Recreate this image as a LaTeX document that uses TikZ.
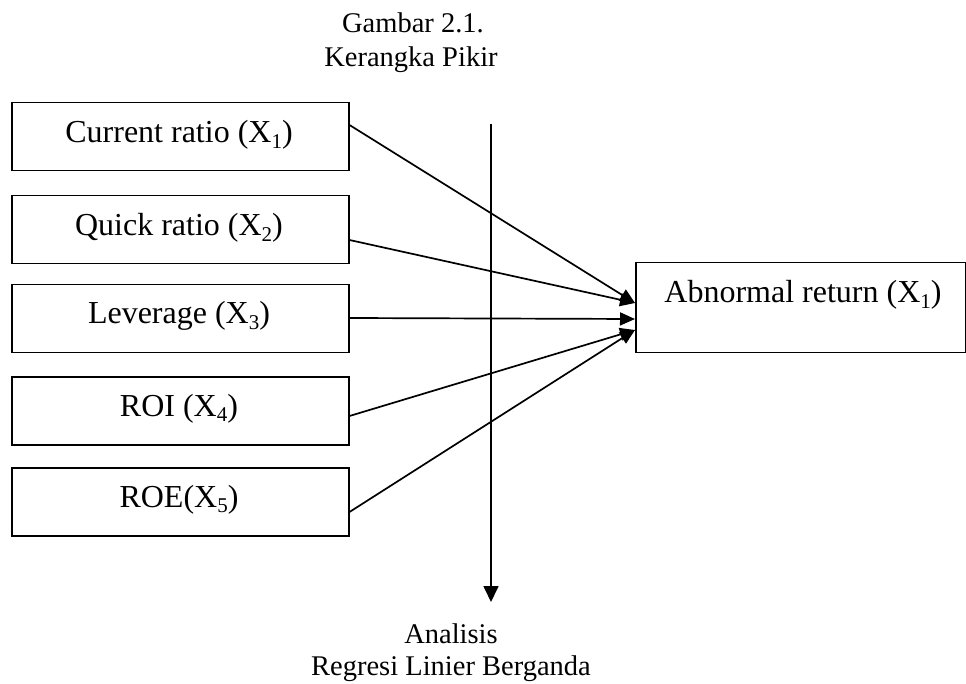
\documentclass[tikz,border=0pt]{standalone}
\usepackage{fontspec}
\setmainfont{Liberation Serif}
\usetikzlibrary{arrows.meta,calc}
\newcommand\subx[1]{\raisebox{-0.18em}{\fontsize{21}{21}\selectfont #1}}
\tikzset{
  boxnode/.style={draw, line width=1.5pt, minimum width=337pt, minimum height=68pt, inner sep=0pt, anchor=north west},
  txt/.style={font=\fontsize{32}{37}\selectfont, anchor=base, inner sep=0pt},
  ttl/.style={font=\fontsize{28.5}{34}\selectfont, anchor=base, inner sep=0pt},
  conn/.style={line width=1.7pt, -{Triangle[length=15pt,width=13pt]}},
}
\begin{document}
\begin{tikzpicture}[x=1pt,y=-1pt]
\useasboundingbox (0,0) rectangle (966,684);
% boxes
\node[boxnode] (b1) at (11,102) {};
\node[boxnode] (b2) at (11,195) {};
\node[boxnode] (b3) at (11,284) {};
\node[boxnode] (b4) at (11,376) {};
\node[boxnode] (b5) at (11,467) {};
\node[draw, line width=1.5pt, minimum width=330pt, minimum height=90pt, inner sep=0pt, anchor=north west] (ar) at (635,262) {};
% texts
\node[txt] (t1) at (179,143) {Current ratio (X\subx{1})};
\node[txt] (t2) at (179,236) {Quick ratio (X\subx{2})};
\node[txt] (t3) at (179,324) {Leverage (X\subx{3})};
\node[txt] (t4) at (179,416) {ROI (X\subx{4})};
\node[txt] (t5) at (179,507) {ROE(X\subx{5})};
\node[txt] (ta) at (803,303) {Abnormal return (X\subx{1})};
\node[ttl] (g1) at (413,33) {Gambar 2.1.};
\node[ttl] (g2) at (411,67) {Kerangka Pikir};
\node[ttl] (a1) at (451,643) {Analisis};
\node[ttl] (a2) at (451,675) {Regresi Linier Berganda};
% vertical line
\coordinate (vtop) at (491,124);
\coordinate (vbot) at (491,602);
\draw[line width=1.7pt, -{Triangle[length=16pt,width=15pt]}] (vtop) -- (vbot);
% connectors
\draw[conn] ($(b1.north east)+(0,23)$) -- ($(ar.north west)+(0,41)$);
\draw[conn] ($(b2.north east)+(0,45)$) -- ($(ar.north west)+(0,41)$);
\draw[conn] ($(b3.north east)+(0,34)$) -- ($(ar.north west)+(0,57)$);
\draw[conn] ($(b4.north east)+(0,40)$) -- ($(ar.north west)+(0,68)$);
\draw[conn] ($(b5.north east)+(0,45)$) -- ($(ar.north west)+(0,68)$);
\end{tikzpicture}
\end{document}
